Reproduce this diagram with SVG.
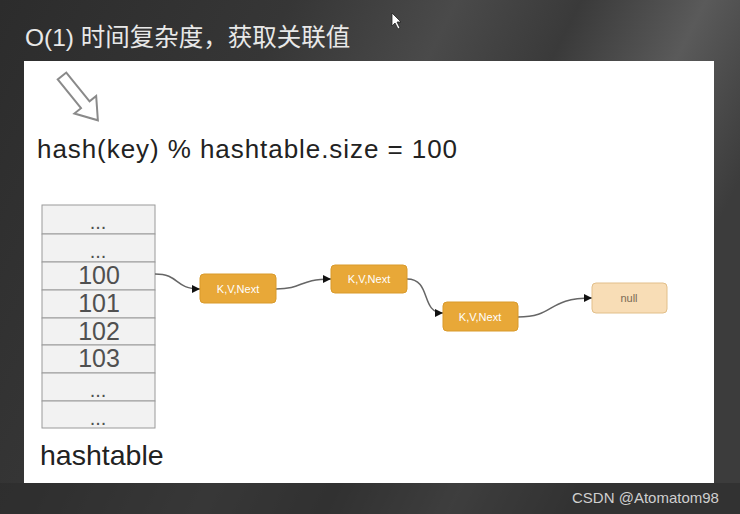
<svg xmlns="http://www.w3.org/2000/svg" width="740" height="514" viewBox="0 0 740 514">
  <defs>
    <linearGradient id="bg" x1="0" y1="0" x2="1" y2="0.35">
      <stop offset="0" stop-color="#2c2c2c"/>
      <stop offset="0.35" stop-color="#363636"/>
      <stop offset="0.55" stop-color="#4a4a4a"/>
      <stop offset="0.7" stop-color="#3a3a3a"/>
      <stop offset="0.85" stop-color="#5a5a5a"/>
      <stop offset="1" stop-color="#3c3c3c"/>
    </linearGradient>
    <marker id="ah" markerWidth="9" markerHeight="8" refX="8" refY="4" orient="auto" markerUnits="userSpaceOnUse">
      <path d="M0,0 L8,4 L0,8 Z" fill="#111"/>
    </marker>
    <style>
      .row { fill: #f2f2f2; stroke: #9a9a9a; stroke-width: 1; }
      .num { font-family: "Liberation Sans", Arial, sans-serif; font-size: 25px; fill: #505050; text-anchor: middle; }
      .dots { font-family: "Liberation Sans", Arial, sans-serif; font-size: 20px; fill: #505050; text-anchor: middle; }
      .kv rect { fill: #e8a838; stroke: #d99a2b; stroke-width: 1; }
      .kv text { font-family: "Liberation Sans", Arial, sans-serif; font-size: 11px; fill: #ffffff; text-anchor: middle; }
      .nul rect { fill: #f8ddb6; stroke: #e2bf8a; stroke-width: 1; }
      .nul text { font-family: "Liberation Sans", Arial, sans-serif; font-size: 11px; fill: #7a6a55; text-anchor: middle; }
      .conn path { fill: none; stroke: #666; stroke-width: 1.5; marker-end: url(#ah); }
    </style>
  </defs>

  <rect x="0" y="0" width="740" height="514" fill="url(#bg)"/>
  <rect x="0" y="483" width="740" height="31" fill="#2c2c2c" opacity="0.6"/>

  <!-- mouse pointer -->
  <path d="M392,13 L392,26 L395,23 L398,29 L400,28 L397,22 L401,22 Z" fill="#ffffff" stroke="#222" stroke-width="0.8"/>

  <text x="25" y="46" font-family="'Liberation Sans', 'Noto Sans CJK SC', sans-serif" font-size="24.5" fill="#e8e8e8">O(1) 时间复杂度，获取关联值</text>

  <!-- white panel -->
  <rect x="24" y="61" width="690" height="422" fill="#ffffff"/>

  <!-- hollow arrow -->
  <polygon transform="translate(62,76) rotate(51)" points="0,-5.5 37,-5.5 37,-14 57,0 37,14 37,5.5 0,5.5" fill="#ffffff" stroke="#8a8a8a" stroke-width="2" stroke-linejoin="miter"/>

  <text x="37" y="158" font-family="'Liberation Sans', Arial, sans-serif" font-size="26" fill="#222" textLength="420">hash(key) % hashtable.size = 100</text>

  <!-- hashtable -->
  <g id="hashtable">
    <rect class="row" x="42" y="205" width="113" height="29"/>
    <rect class="row" x="42" y="234" width="113" height="28"/>
    <rect class="row" x="42" y="262" width="113" height="28"/>
    <rect class="row" x="42" y="290" width="113" height="28"/>
    <rect class="row" x="42" y="318" width="113" height="27"/>
    <rect class="row" x="42" y="345" width="113" height="28"/>
    <rect class="row" x="42" y="373" width="113" height="28"/>
    <rect class="row" x="42" y="401" width="113" height="27"/>
    <text class="dots" x="98" y="229">...</text>
    <text class="dots" x="98" y="258">...</text>
    <text class="num" x="99" y="284">100</text>
    <text class="num" x="99" y="312">101</text>
    <text class="num" x="99" y="340">102</text>
    <text class="num" x="99" y="367">103</text>
    <text class="dots" x="98" y="397">...</text>
    <text class="dots" x="98" y="425">...</text>
    <text x="40" y="465" font-family="'Liberation Sans', Arial, sans-serif" font-size="28.5" fill="#222">hashtable</text>
  </g>

  <g id="connectors" class="conn">
    <path d="M155,274 C180,274 174,289 200,289"/>
    <path d="M276,289 C304,289 298,279 331,279"/>
    <path d="M407,279 C432,279 420,313 443,313"/>
    <path d="M518,317 C556,317 546,298 592,298"/>
  </g>

  <g id="node1" class="kv">
    <rect x="200" y="274" width="76" height="29" rx="4"/>
    <text x="238" y="293">K,V,Next</text>
  </g>
  <g id="node2" class="kv">
    <rect x="331" y="265" width="76" height="28" rx="4"/>
    <text x="369" y="283">K,V,Next</text>
  </g>
  <g id="node3" class="kv">
    <rect x="443" y="302" width="75" height="29" rx="4"/>
    <text x="480" y="321">K,V,Next</text>
  </g>
  <g id="null" class="nul">
    <rect x="592" y="283" width="75" height="30" rx="4"/>
    <text x="629" y="302">null</text>
  </g>

  <text x="572" y="503" font-family="'Liberation Sans', Arial, sans-serif" font-size="15" fill="#cfcfcf">CSDN @Atomatom98</text>
</svg>
